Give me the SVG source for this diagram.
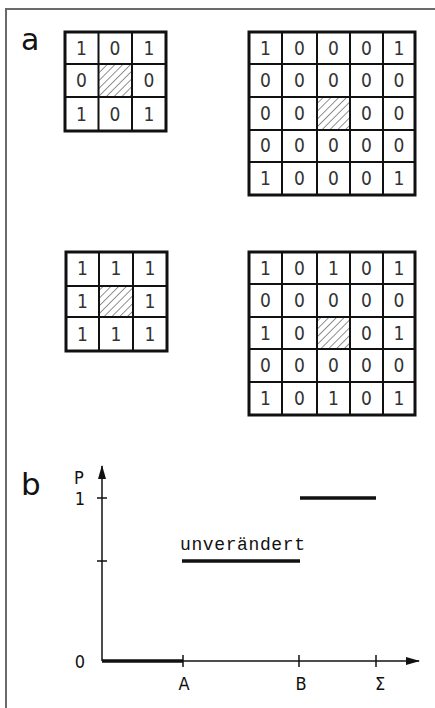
<svg xmlns="http://www.w3.org/2000/svg" width="435" height="708" viewBox="0 0 435 708">
<style>
.frame{stroke:#6a6a6a;stroke-width:2;fill:none}
.outer{fill:#fff;stroke:#111;stroke-width:3}
.inner{stroke:#111;stroke-width:2}
.d{font-family:"DejaVu Sans Condensed","Liberation Sans Narrow","Liberation Sans",sans-serif;font-size:19px;fill:#333;text-anchor:middle;font-weight:200}
.lab{font-family:"DejaVu Sans","Liberation Sans",sans-serif;fill:#111}
.s{font-family:"DejaVu Sans Condensed","Liberation Sans",sans-serif;font-size:18px;fill:#111;text-anchor:middle;font-weight:300}
.m{font-family:"Liberation Mono","DejaVu Sans Mono",monospace;font-size:18px;fill:#111}
.ax{stroke:#111;stroke-width:1.5;fill:none}
.thick{stroke:#111;stroke-width:3.5}
</style>
<defs>
<pattern id="hatch" patternUnits="userSpaceOnUse" width="5.5" height="5.5" patternTransform="rotate(45)">
<line x1="0" y1="0" x2="0" y2="5.5" stroke="#222" stroke-width="1"/>
</pattern>
<marker id="arr" markerWidth="14" markerHeight="10" refX="13" refY="5" orient="auto" markerUnits="userSpaceOnUse">
<path d="M0,1 L14,5 L0,9 Z" fill="#111"/>
</marker>
</defs>
<rect width="435" height="708" fill="#fff"/>
<path class="frame" d="M6,708 V9 H435"/>
<text class="lab" x="21" y="50" font-size="30">a</text>
<text class="lab" x="21" y="495" font-size="31">b</text>

<g id="grid1">
<rect class="outer" x="65" y="32" width="101" height="99"/>
<rect x="98.5" y="64" width="33.5" height="33" fill="url(#hatch)"/>
<g class="inner"><line x1="98.5" y1="32" x2="98.5" y2="131"/><line x1="132" y1="32" x2="132" y2="131"/><line x1="65" y1="64" x2="166" y2="64"/><line x1="65" y1="97" x2="166" y2="97"/></g>
<text class="d" x="81.5" y="55">1</text><text class="d" x="115" y="55">0</text><text class="d" x="149" y="55">1</text>
<text class="d" x="81.5" y="87">0</text><text class="d" x="149" y="87">0</text>
<text class="d" x="81.5" y="121">1</text><text class="d" x="115" y="121">0</text><text class="d" x="149" y="121">1</text>
</g>

<g id="grid2">
<rect class="outer" x="249" y="32" width="166" height="163"/>
<rect x="317" y="97" width="33" height="33" fill="url(#hatch)"/>
<g class="inner"><line x1="282" y1="32" x2="282" y2="195"/><line x1="317" y1="32" x2="317" y2="195"/><line x1="350" y1="32" x2="350" y2="195"/><line x1="383" y1="32" x2="383" y2="195"/><line x1="249" y1="64" x2="415" y2="64"/><line x1="249" y1="97" x2="415" y2="97"/><line x1="249" y1="130" x2="415" y2="130"/><line x1="249" y1="162" x2="415" y2="162"/></g>
<text class="d" x="265.5" y="55">1</text><text class="d" x="299.5" y="55">0</text><text class="d" x="333.5" y="55">0</text><text class="d" x="366.5" y="55">0</text><text class="d" x="399" y="55">1</text>
<text class="d" x="265.5" y="87">0</text><text class="d" x="299.5" y="87">0</text><text class="d" x="333.5" y="87">0</text><text class="d" x="366.5" y="87">0</text><text class="d" x="399" y="87">0</text>
<text class="d" x="265.5" y="120">0</text><text class="d" x="299.5" y="120">0</text><text class="d" x="366.5" y="120">0</text><text class="d" x="399" y="120">0</text>
<text class="d" x="265.5" y="152">0</text><text class="d" x="299.5" y="152">0</text><text class="d" x="333.5" y="152">0</text><text class="d" x="366.5" y="152">0</text><text class="d" x="399" y="152">0</text>
<text class="d" x="265.5" y="185">1</text><text class="d" x="299.5" y="185">0</text><text class="d" x="333.5" y="185">0</text><text class="d" x="366.5" y="185">0</text><text class="d" x="399" y="185">1</text>
</g>

<g id="grid3">
<rect class="outer" x="66" y="252" width="101" height="99"/>
<rect x="99" y="286" width="34" height="31" fill="url(#hatch)"/>
<g class="inner"><line x1="99" y1="252" x2="99" y2="351"/><line x1="133" y1="252" x2="133" y2="351"/><line x1="66" y1="286" x2="167" y2="286"/><line x1="66" y1="317" x2="167" y2="317"/></g>
<text class="d" x="82.5" y="275">1</text><text class="d" x="116" y="275">1</text><text class="d" x="150" y="275">1</text>
<text class="d" x="82.5" y="308">1</text><text class="d" x="150" y="308">1</text>
<text class="d" x="82.5" y="341">1</text><text class="d" x="116" y="341">1</text><text class="d" x="150" y="341">1</text>
</g>

<g id="grid4">
<rect class="outer" x="249" y="252" width="166" height="163"/>
<rect x="317" y="317" width="33" height="32" fill="url(#hatch)"/>
<g class="inner"><line x1="282" y1="252" x2="282" y2="415"/><line x1="317" y1="252" x2="317" y2="415"/><line x1="350" y1="252" x2="350" y2="415"/><line x1="383" y1="252" x2="383" y2="415"/><line x1="249" y1="284" x2="415" y2="284"/><line x1="249" y1="317" x2="415" y2="317"/><line x1="249" y1="349" x2="415" y2="349"/><line x1="249" y1="382" x2="415" y2="382"/></g>
<text class="d" x="265.5" y="275">1</text><text class="d" x="299.5" y="275">0</text><text class="d" x="333.5" y="275">1</text><text class="d" x="366.5" y="275">0</text><text class="d" x="399" y="275">1</text>
<text class="d" x="265.5" y="307">0</text><text class="d" x="299.5" y="307">0</text><text class="d" x="333.5" y="307">0</text><text class="d" x="366.5" y="307">0</text><text class="d" x="399" y="307">0</text>
<text class="d" x="265.5" y="340">1</text><text class="d" x="299.5" y="340">0</text><text class="d" x="366.5" y="340">0</text><text class="d" x="399" y="340">1</text>
<text class="d" x="265.5" y="372">0</text><text class="d" x="299.5" y="372">0</text><text class="d" x="333.5" y="372">0</text><text class="d" x="366.5" y="372">0</text><text class="d" x="399" y="372">0</text>
<text class="d" x="265.5" y="405">1</text><text class="d" x="299.5" y="405">0</text><text class="d" x="333.5" y="405">1</text><text class="d" x="366.5" y="405">0</text><text class="d" x="399" y="405">1</text>
</g>

<g id="connectors">
<line class="ax" x1="102" y1="661" x2="102" y2="466" marker-end="url(#arr)"/>
<line class="ax" x1="102" y1="661" x2="419" y2="661" marker-end="url(#arr)"/>
<g class="ax"><line x1="97" y1="498" x2="107" y2="498"/><line x1="97" y1="561" x2="107" y2="561"/><line x1="183" y1="655" x2="183" y2="667"/><line x1="299" y1="655" x2="299" y2="667"/><line x1="376" y1="655" x2="376" y2="667"/></g>
<line class="thick" x1="102" y1="661" x2="183" y2="661"/>
<line class="thick" x1="182" y1="561" x2="300" y2="561"/>
<line class="thick" x1="300" y1="498" x2="376" y2="498"/>
</g>
<text class="s" x="79" y="484" font-size="14">P</text>
<text class="s" x="80" y="505">1</text>
<text class="s" x="80" y="668">0</text>
<text class="s" x="184" y="690">A</text>
<text class="s" x="301" y="690">B</text>
<text class="s" x="380" y="690">Σ</text>
<text class="m" x="180" y="550" textLength="125">unverändert</text>
</svg>
